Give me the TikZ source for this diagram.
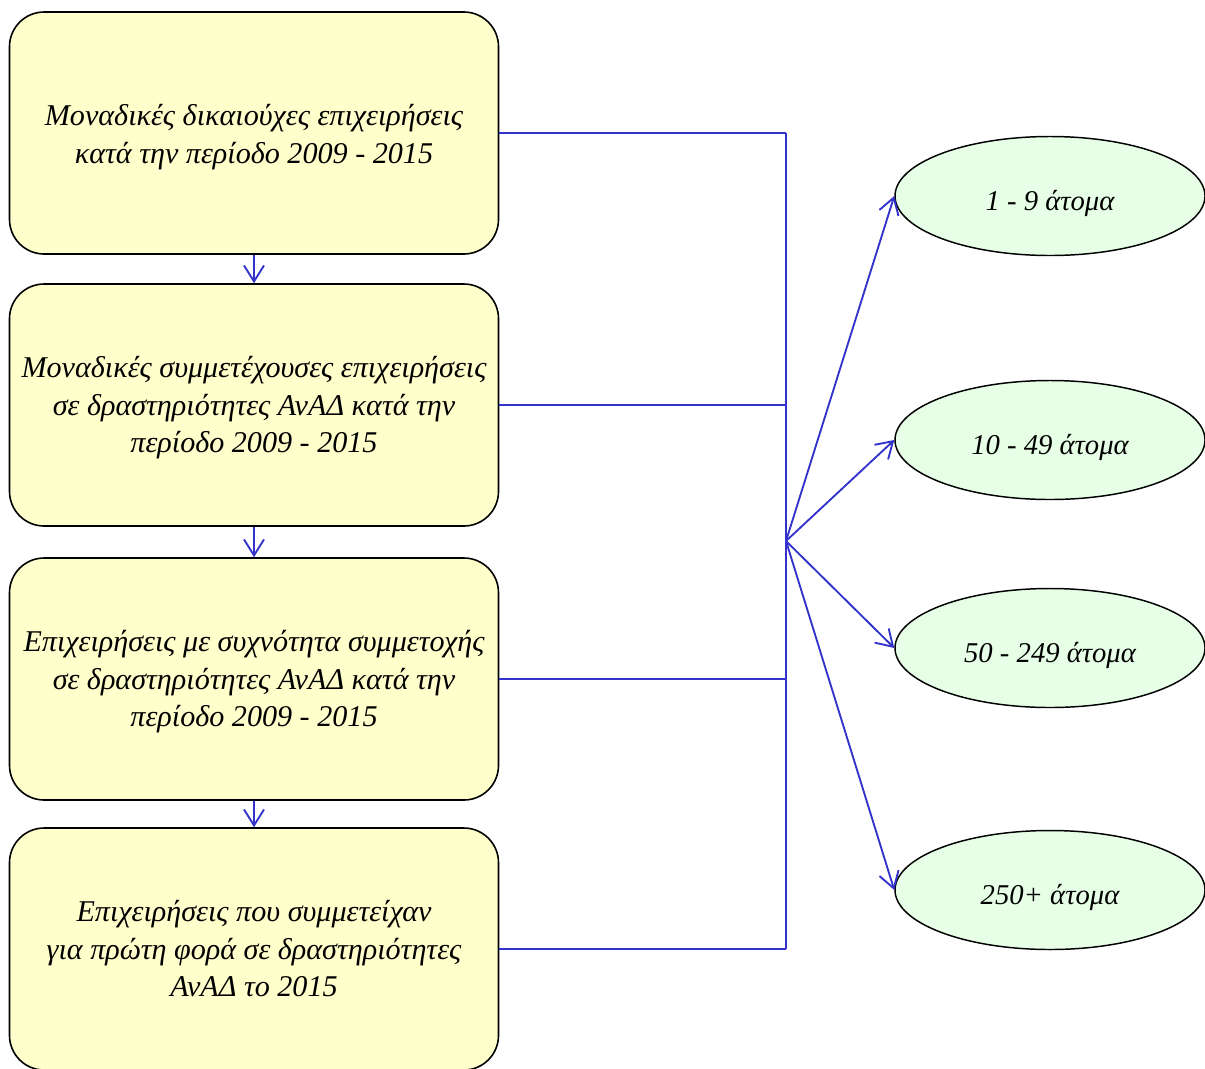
\documentclass[tikz,border=0pt]{standalone}
\usepackage{fontspec}
\setmainfont{Liberation Serif}
\usetikzlibrary{arrows.meta,shapes.geometric}
\definecolor{boxfill}{HTML}{FFFFCC}
\definecolor{ellfill}{HTML}{E6FFE6}
\definecolor{linkblue}{HTML}{3333CC}
\newcommand{\lowered}[2]{\raisebox{-#1}[\height][\depth]{\begin{tabular}{@{}c@{}}#2\end{tabular}}}
\begin{document}
\begin{tikzpicture}[x=0.75pt,y=-0.75pt,
  stagebox/.style={draw=black,line width=1.2pt,fill=boxfill,rounded corners=26pt,
    minimum width=366.75pt,minimum height=181.5pt,inner sep=0pt,
    font=\fontsize{22.6pt}{28pt}\selectfont\itshape},
  sizeell/.style={ellipse,draw=black,line width=1.1pt,fill=ellfill,
    minimum width=232.5pt,minimum height=89.25pt,inner sep=0pt,
    font=\fontsize{21.5pt}{28pt}\selectfont\itshape},
  link/.style={draw=linkblue,line width=1.7pt},
  linkarrow/.style={draw=linkblue,line width=1.4pt,-{Straight Barb[length=12pt,width=15pt]}}]
\useasboundingbox (0,0) rectangle (1205,1068);
\node[stagebox] (b1) at (254,133) {\lowered{3pt}{Μοναδικές δικαιούχες επιχειρήσεις\\κατά την περίοδο 2009 - 2015}};
\node[stagebox] (b2) at (254,405) {\lowered{2pt}{Μοναδικές συμμετέχουσες επιχειρήσεις\\σε δραστηριότητες ΑνΑΔ κατά την\\περίοδο 2009 - 2015}};
\node[stagebox] (b3) at (254,679) {\lowered{2pt}{Επιχειρήσεις με συχνότητα συμμετοχής\\σε δραστηριότητες ΑνΑΔ κατά την\\περίοδο 2009 - 2015}};
\node[stagebox] (b4) at (254,949) {\lowered{2pt}{Επιχειρήσεις που συμμετείχαν\\για πρώτη φορά σε δραστηριότητες\\ΑνΑΔ το 2015}};
\node[sizeell] (e1) at (1050,196) {\lowered{5pt}{1 - 9 άτομα}};
\node[sizeell] (e2) at (1050,440) {\lowered{5pt}{10 - 49 άτομα}};
\node[sizeell] (e3) at (1050,648) {\lowered{5pt}{50 - 249 άτομα}};
\node[sizeell] (e4) at (1050,890) {\lowered{5pt}{250+ άτομα}};
\coordinate (hub) at (786,541);
\draw[linkarrow] (b1.south) -- (b2.north);
\draw[linkarrow] (b2.south) -- (b3.north);
\draw[linkarrow] (b3.south) -- (b4.north);
\draw[link] (b1.east) -- (b1.east -| hub);
\draw[link] (b2.east) -- (b2.east -| hub);
\draw[link] (b3.east) -- (b3.east -| hub);
\draw[link] (b4.east) -- (b4.east -| hub);
\draw[link] (b1.east -| hub) -- (b4.east -| hub);
\draw[linkarrow] (hub) -- (e1.west);
\draw[linkarrow] (hub) -- (e2.west);
\draw[linkarrow] (hub) -- (e3.west);
\draw[linkarrow] (hub) -- (e4.west);
\end{tikzpicture}
\end{document}
